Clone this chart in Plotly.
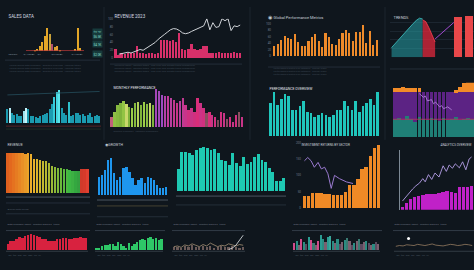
import plotly.graph_objects as go

W, H = 474, 270
BG = "#0f161d"

# ---------------- data ----------------
sales_vals = [0, 0, 0, 1, 2, 5, 9, 14, 22, 16, 7, 4, 5, 1, 0, 0, 0, 0, 0, 2, 22, 3, 0]
sales_cols = ["#e3a628"] * 9 + ["#c9a23a", "#b0506e", "#d8a030", "#e0a030"] + ["#e3a628"] * 10

rev_vals = [23, 8, 12, 10, 14, 12, 13, 30, 12, 14, 10, 13, 12, 11, 14, 46, 45, 47, 44, 46, 40,
            63, 22, 20, 24, 37, 22, 21, 22, 30, 31, 14, 12, 13, 15, 12, 14, 13, 12, 15, 14, 13]
rev_line = [None, 10, 12, 14, 15, 13, 16, 18, 22, 20, 25, 28, 33, 40, 48, 55, 60, 66, 72, 75, 74,
            70, 64, 62, 64, 68, 72, 76, 80, 82, 100, 72, 90, 78, 80, 100, 95, 100, 70, 82, 80, 84]

glob_vals = [30, 38, 50, 62, 55, 53, 68, 45, 30, 32, 48, 60, 67, 48, 28, 72, 60, 37, 35, 52, 70,
             80, 70, 48, 75, 75, 95, 42, 78, 35, 50]

trend_teal_x = [0, 1, 2, 3, 4, 5, 6, 7, 8, 9, 10]
trend_teal_y = [22, 30, 38, 48, 55, 62, 70, 78, 85, 90, 88]
trend_red_x = [10, 11, 12, 13, 14]
trend_red_y = [86, 82, 68, 50, 35]
trend_line_x = [14, 16, 18, 20]
trend_line_y = [42, 55, 68, 80]
trend_bar_x = [21.5, 25]
trend_bar_y = [92, 95]

cyan_vals = [40, 45, 30, 25, 28, 20, 22, 35, 45, 40, 20, 22, 18, 15, 20, 25, 28, 30, 40, 55,
             75, 90, 95, 45, 30, 25, 60, 20, 25, 30, 30, 25, 28, 20, 25, 30, 18, 22, 25, 20]
cyan_cols = ["#1b9bb0", "#b8ecf5", "#1b9bb0", "#1b9bb0", "#1b9bb0", "#1b9bb0", "#1b9bb0",
             "#9fe2ee", "#c8f2f8", "#1b9bb0"] + ["#1b9bb0"] * 10 + ["#36c9d8", "#44d6e0", "#5ae4ea"] + \
            ["#1b9bb0"] * 3 + ["#2fc0cc"] + ["#1b9bb0"] * 13

monthly_vals = [30, 45, 65, 70, 75, 68, 60, 55, 70, 72, 65, 72, 68, 70, 65,
                110, 105, 95, 90, 90, 85, 80, 70, 75, 85, 65, 50, 55, 45, 85, 70, 55, 40, 45,
                35, 30, 20, 45, 40, 25, 30, 15, 35, 45, 30]
monthly_cols = ["#c0607a", "#8fbf45", "#86b93f", "#7fb33c", "#92c444", "#c8d86a", "#7fb33c",
                "#9ccc48", "#86b93f", "#b4d25a", "#7fb33c", "#9ccc48", "#86b93f", "#c8d86a", "#7fb33c",
                "#a546b8", "#a24ab8", "#9c4cc0", "#b23fa8", "#c03a9a", "#b8409e", "#c23890", "#c83487",
                "#b33f9f", "#c03a92", "#c8348a", "#d03080", "#c83487", "#d0307f", "#d82e7a", "#cc3386",
                "#d0307f", "#8a5060", "#d82e7a", "#c83487", "#d03080", "#7a4a58", "#d0307f", "#c83487",
                "#8a4a60", "#d03080", "#c83487", "#d0307f", "#8a5060", "#c83487"]

perf_vals = [95, 125, 90, 105, 120, 115, 75, 75, 85, 100, 70, 65, 55, 60, 65, 60, 55, 60, 75, 75,
             100, 85, 75, 100, 70, 85, 95, 105, 90, 125]

stack_teal = [30, 32, 28, 35, 30, 25, 33, 30, 28, 32, 30, 27, 31, 29, 30, 33, 28, 30, 32, 30]
stack_purple = [45, 43, 47, 40, 45, 50, 42, 45, 47, 43, 45, 48, 44, 46, 45, 42, 47, 45, 43, 45]
stack_orange = [7, 6, 8, 7, 6, 7, 6, 0, 0, 0, 0, 0, 0, 0, 0, 3, 8, 14, 18, 20]
stack_line_x = [6, 7, 7.5, 8, 9, 9.5, 10, 11, 11.5, 12, 13, 14]
stack_line_y = [72, 66, 68, 60, 62, 55, 58, 50, 52, 47, 50, 45]

grad_vals = [118, 118, 117, 118, 118, 117, 116, 117, 115, 100, 100, 98, 96, 95, 90, 80, 76, 75,
             73, 72, 70, 68, 66, 65, 64, 70, 70, 70]
grad_cols = ["#e0601e", "#e3681e", "#e57220", "#e67c22", "#e88624", "#e99026", "#ea9a28", "#eba42a",
             "#ecae2c", "#e8b22c", "#dcb42c", "#d0b62e", "#c4b830", "#b8b832", "#acb834", "#9cb836",
             "#8cb838", "#7cb83a", "#6cb83c", "#5cb83e", "#4cb840", "#3cb843", "#3cb043", "#34a840",
             "#34a040", "#d03a2a", "#d63a2a", "#e04030"]

blue_vals = [55, 60, 75, 105, 110, 65, 45, 55, 80, 85, 70, 50, 30, 45, 50, 35, 55, 50, 45, 30, 20, 20, 25]

teal_vals = [67, 122, 122, 117, 112, 127, 132, 137, 132, 127, 130, 117, 97, 92, 82, 117, 87, 77, 107,
             85, 90, 105, 115, 95, 90, 70, 60, 30, 30, 40]

invest_vals = [38, 38, 45, 45, 45, 43, 43, 40, 40, 40, 50, 70, 70, 90, 120, 125, 160, 185, 195]
invest_line_x = [0, 0.8, 1.6, 2.4, 3.3, 4.1, 4.9, 5.7, 6.5, 7.3, 8.5, 10.2, 11.8]
invest_line_y = [145, 155, 145, 125, 140, 120, 125, 105, 60, 100, 90, 80, 75]

mag_vals = [7, 17, 27, 32, 34, 37, 39, 40, 40, 42, 44, 47, 44, 42, 57, 57, 57, 60]
mag_line_x = [0, 1.2, 2.5, 3.3, 4.2, 5.0, 5.6, 6.4, 7.2, 8.0, 9.0, 10.0, 10.8, 11.5, 12.3,
              13.0, 14.0, 14.8, 15.6, 16.4, 17.0]
mag_line_y = [22, 37, 52, 60, 67, 78, 70, 88, 76, 92, 82, 110, 96, 112, 104, 115, 105, 120,
              100, 127, 132]

red_vals = [15, 20, 20, 25, 30, 28, 32, 35, 37, 35, 32, 30, 25, 25, 20, 20, 20, 25, 25, 28, 28, 25,
            25, 28, 28, 30, 28, 28]
green_vals = [5, 5, 10, 12, 12, 15, 15, 10, 20, 15, 10, 5, 18, 10, 15, 20, 25, 28, 25, 30, 32, 28,
              30, 25, 28]
tan_bars = [8, 10, 6, 12, 9, 14, 10, 8, 12, 9, 11, 7, 10, 13, 9, 8, 12, 10, 7, 9]
tan_line = [10, 12, 8, 15, 12, 18, 14, 10, 16, 12, 20, 15, 10, 14, 12, 18, 15, 12, 16, 14]
white_line_x = [15, 16, 17, 18, 19]
white_line_y = [2, 6, 14, 28, 42]
mix_vals = [20, 25, 15, 30, 22, 18, 35, 28, 20, 15, 25, 40, 30, 22, 35, 38, 25, 20, 30, 18, 22, 28,
            32, 25, 15, 20, 24, 30, 18, 22, 26, 20, 15, 18, 22, 16]
mix_cols = ["#d14a8b", "#2a8c82", "#7a6070", "#d14a8b", "#2a8c82", "#5a4a60", "#2a9c92", "#d14a8b",
            "#3a7a72", "#7a6070", "#d14a8b", "#2a9c92", "#2a8c82", "#7a6070", "#2a9c92", "#3aa89c",
            "#2a8c82", "#7a6070", "#2a8c82", "#5a4a60", "#7a6070", "#2a8c82", "#3a7a72", "#7a6070",
            "#5a4a60", "#2a8c82", "#7a6070", "#3a7a72", "#5a4a60", "#7a6070", "#2a8c82", "#5a4a60",
            "#7a6070", "#2a8c82", "#5a4a60", "#7a6070"]
tan2_line = [10, 12, 11, 14, 13, 12, 15, 13, 12, 14, 16, 13, 12, 11, 13, 15, 14, 12, 13, 15, 14, 12]

# ---------------- figure ----------------
fig = go.Figure()
count = [0]
TICKF = dict(size=3, color="#6f7b88", family="Roboto")


def axes(x0, y0, x1, y1, xr=None, yr=None, yticks=False, grid=False, yline=False):
    count[0] += 1
    s = "" if count[0] == 1 else str(count[0])
    xa = dict(domain=[x0 / W, x1 / W], anchor="y" + s, showgrid=False, zeroline=False,
              showticklabels=False, ticks="", showline=False, fixedrange=True)
    ya = dict(domain=[1 - y1 / H, 1 - y0 / H], anchor="x" + s, showgrid=grid, gridcolor="#1c2630",
              gridwidth=0.5, zeroline=False, showticklabels=yticks, tickfont=TICKF, ticks="",
              showline=yline, linecolor="#7c8894", linewidth=0.6, nticks=6, fixedrange=True)
    if xr is not None:
        xa["range"] = xr
    if yr is not None:
        ya["range"] = yr
    fig.update_layout(**{"xaxis" + s: xa, "yaxis" + s: ya})
    return "x" + s, "y" + s


def bar(ax, vals, color, width=0.7, x=None, base=None):
    xa, ya = ax
    fig.add_trace(go.Bar(x=x if x is not None else list(range(len(vals))), y=vals, marker_color=color,
                         marker_line_width=0, width=width, xaxis=xa, yaxis=ya, showlegend=False,
                         hoverinfo="skip"))


def line(ax, x, y, color, width=1.0):
    xa, ya = ax
    fig.add_trace(go.Scatter(x=x, y=y, mode="lines", line=dict(color=color, width=width),
                             xaxis=xa, yaxis=ya, showlegend=False, hoverinfo="skip"))


def txt(x, y, s, size=5, color="#d5dbe2", anchor="left", bg=None):
    fig.add_annotation(x=x / W, y=1 - y / H, xref="paper", yref="paper", text=s, showarrow=False,
                       xanchor=anchor, yanchor="middle", bgcolor=bg, borderpad=0.5,
                       font=dict(size=size, color=color, family="Roboto"))


def hline(x0, x1, y, color="#2a3440", width=0.8):
    fig.add_shape(type="line", xref="paper", yref="paper", x0=x0 / W, x1=x1 / W, y0=1 - y / H,
                  y1=1 - y / H, line=dict(color=color, width=width))


def vline(x, y0, y1, color="#1e2832", width=0.8):
    fig.add_shape(type="line", xref="paper", yref="paper", x0=x / W, x1=x / W, y0=1 - y0 / H,
                  y1=1 - y1 / H, line=dict(color=color, width=width))


# panel separators
for xv in (104, 250, 385):
    vline(xv, 5, 140)

# ---- Row 1 ----
axA = axes(26, 24, 84, 50, xr=[-0.5, 22.5], yr=[0, 24])
bar(axA, sales_vals, sales_cols, width=0.55)
line(axA, [-0.5, 22.5], [0.6, 0.6], "#b83a3a", 0.8)
txt(7, 14, "SALES DATA", 4.5)
txt(92, 30, "$8.2K", 3, "#8fe0d8", bg="#173a3c")
txt(92, 35, "$6.5K", 3, "#8fe0d8", bg="#173a3c")
txt(92, 43, "$4.1K", 3, "#8fe0d8", bg="#173a3c")
txt(92, 53, "$2.0K", 3, "#8fe0d8", bg="#173a3c")
for xx, s in [(7, "REGION"), (22, "Q1 TOTAL"), (36, "Q2"), (50, "Q3 TOTAL"), (70, "Q4 TOTAL")]:
    txt(xx, 53, s, 2.5, "#7f8a96")
hline(5, 100, 59)

axB = axes(114, 17, 242, 57, xr=[-0.6, 41.6], yr=[0, 100], yticks=True)
bar(axB, rev_vals, "#d8306a", width=0.6)
line(axB, list(range(len(rev_line))), rev_line, "#e4e8ec", 0.9)
txt(113, 14, "REVENUE 2023", 4.5)
hline(110, 242, 63)

axC = axes(272, 22, 379, 55, xr=[-0.7, 30.7], yr=[0, 100], yticks=True)
bar(axC, glob_vals, "#ee8a2a", width=0.62)
txt(266, 15, "◉", 5, "#c8d0d8")
txt(272, 15, "Global Performance Metrics", 4, "#c8d0d8")
hline(268, 380, 66)

axD = axes(390, 12, 474, 56, xr=[-0.5, 26.5], yr=[0, 100], grid=True)
fig.add_trace(go.Scatter(x=trend_teal_x, y=trend_teal_y, mode="lines", fill="tozeroy",
                         fillcolor="rgba(38,160,165,0.55)", line=dict(color="#3fc4c4", width=0.8),
                         xaxis=axD[0], yaxis=axD[1], showlegend=False, hoverinfo="skip"))
fig.add_trace(go.Scatter(x=trend_red_x, y=trend_red_y, mode="lines", fill="tozeroy",
                         fillcolor="rgba(225,40,60,0.75)", line=dict(color="#ff4050", width=0.8),
                         xaxis=axD[0], yaxis=axD[1], showlegend=False, hoverinfo="skip"))
line(axD, trend_line_x, trend_line_y, "#a04ad0", 1.0)
bar(axD, trend_bar_y, "#e8484a", width=2.6, x=trend_bar_x)
txt(392, 15, "TRENDS", 4, "#c8d0d8")
hline(390, 474, 68)

for y in (64, 67, 70):
    txt(8, y, "Lorem ipsum data summary · quarterly overview · regional totals", 2.5, "#3b4652")
    txt(113, y, "Revenue report · monthly totals · year over year growth trend comparison", 2.5, "#3b4652")
    txt(272, y + 3, "Performance metrics by category · annual index", 2.5, "#3b4652")

# ---- Row 2 ----
axE = axes(6, 88, 101, 123, xr=[-0.6, 39.6], yr=[0, 100])
bar(axE, cyan_vals, cyan_cols, width=0.6)
line(axE, [0, 39], [82, 92], "#2b5f70", 0.6)
hline(6, 101, 126, "#6a2a2a", 0.8)
hline(6, 101, 129, "#2a3a2a", 0.6)

axF = axes(110, 87, 244, 127, xr=[-0.6, 44.6], yr=[0, 115])
bar(axF, monthly_vals, monthly_cols, width=0.62)
txt(112, 87, "MONTHLY PERFORMANCE", 3.5, "#e0e4ea")
txt(112, 131, "Monthly summary · category breakdown", 2.5, "#3b4652")

axG = axes(268, 90, 380, 136, xr=[-0.6, 29.6], yr=[0, 130])
bar(axG, perf_vals, "#20c6bc", width=0.7)
txt(268, 88, "PERFORMANCE OVERVIEW", 3.5, "#e0e4ea")

axH = axes(393, 82, 474, 137, xr=[-0.5, 19.5], yr=[0, 90])
bar(axH, stack_teal, "#1f7f76", width=0.9)
bar(axH, stack_purple, "#5c2384", width=0.9)
bar(axH, stack_orange, "#f28c28", width=0.9)
line(axH, stack_line_x, stack_line_y, "#b78ae0", 0.8)
hline(393, 474, 119, "#c0305a", 0.8)
fig.update_layout(barmode="stack")

# ---- Row 3 ----
axI = axes(6, 152, 89, 194, xr=[-0.5, 27.5], yr=[0, 122])
bar(axI, grad_vals, grad_cols, width=0.85)
txt(6, 145, "REVENUE", 3.5, "#c8d0d8")
hline(6, 90, 198, "#4a5560", 1.0)
hline(6, 90, 204, "#2a3440")
hline(6, 90, 215, "#2a3440")
txt(6, 210, "Annual data review", 2.5, "#4b5662")

axJ = axes(97, 158, 168, 196, xr=[-0.6, 22.6], yr=[0, 112])
bar(axJ, blue_vals, "#1e96ee", width=0.8)
txt(103, 145, "◉ GROWTH", 3.5, "#c8d0d8")
hline(97, 168, 201, "#4a5560", 1.0)
hline(97, 168, 207, "#6a6040", 0.6)
hline(97, 168, 218, "#2a3440")

axK = axes(176, 146, 286, 192, xr=[-0.6, 29.6], yr=[0, 140])
bar(axK, teal_vals, "#1ec8b2", width=0.8)
hline(176, 286, 197, "#4a5560", 1.0)
hline(176, 286, 206, "#2a3440")

axL = axes(302, 143, 381, 209, xr=[-0.6, 18.6], yr=[0, 200], yticks=True)
bar(axL, invest_vals, "#f08a26", width=0.85)
line(axL, invest_line_x, invest_line_y, "#9a7ad0", 1.0)
txt(300, 145, "INVESTMENT RETURNS BY SECTOR", 3, "#d0d6de")

axM = axes(400, 150, 474, 211, xr=[-0.6, 17.6], yr=[0, 150], yline=True)
bar(axM, mag_vals, "#c021c8", width=0.85)
line(axM, mag_line_x, mag_line_y, "#b49ee6", 0.9)
txt(473, 145, "ANALYTICS OVERVIEW", 3, "#d0d6de", anchor="right")

# ---- Row 4 ----
for x0, x1 in [(6, 90), (95, 165), (172, 245), (292, 382), (393, 474)]:
    txt(x0, 225, "Data summary report · monthly analysis · trend", 2.5, "#6a7582")
    hline(x0, x1, 232, "#3a4550", 0.8)

axN = axes(6, 234, 88, 252, xr=[-0.6, 27.6], yr=[0, 40])
bar(axN, red_vals, "#d8223f", width=0.85)
axO = axes(95, 238, 163, 252, xr=[-0.6, 24.6], yr=[0, 34])
bar(axO, green_vals, "#2ec767", width=0.85)
axP = axes(172, 236, 245, 252, xr=[-0.5, 19.5], yr=[0, 44])
bar(axP, tan_bars, "#6a5a58", width=0.6)
line(axP, list(range(len(tan_line))), tan_line, "#b8a080", 0.7)
line(axP, white_line_x, white_line_y, "#e8ecf0", 0.8)
axQ = axes(293, 236, 380, 252, xr=[-0.6, 35.6], yr=[0, 42])
bar(axQ, mix_vals, mix_cols, width=0.7)
axR = axes(394, 236, 474, 252, xr=[-0.5, 21.5], yr=[0, 40])
line(axR, list(range(len(tan2_line))), tan2_line, "#a88a6a", 0.7)
fig.add_trace(go.Scatter(x=[3.5], y=[30], mode="markers", marker=dict(color="#ffffff", size=3),
                         xaxis=axR[0], yaxis=axR[1], showlegend=False, hoverinfo="skip"))
for x0, x1 in [(6, 88), (95, 163), (172, 245), (293, 380), (394, 474)]:
    hline(x0, x1, 253, "#4a5560", 0.6)
    txt(x0, 257, "jan · feb · mar · apr · may · jun · jul", 2.2, "#4b5662")

fig.update_layout(width=W, height=H, margin=dict(l=0, r=0, t=0, b=0), paper_bgcolor=BG,
                  plot_bgcolor="rgba(0,0,0,0)", showlegend=False, bargap=0.2)
fig.write_html("out.html", config={"displayModeBar": False})
